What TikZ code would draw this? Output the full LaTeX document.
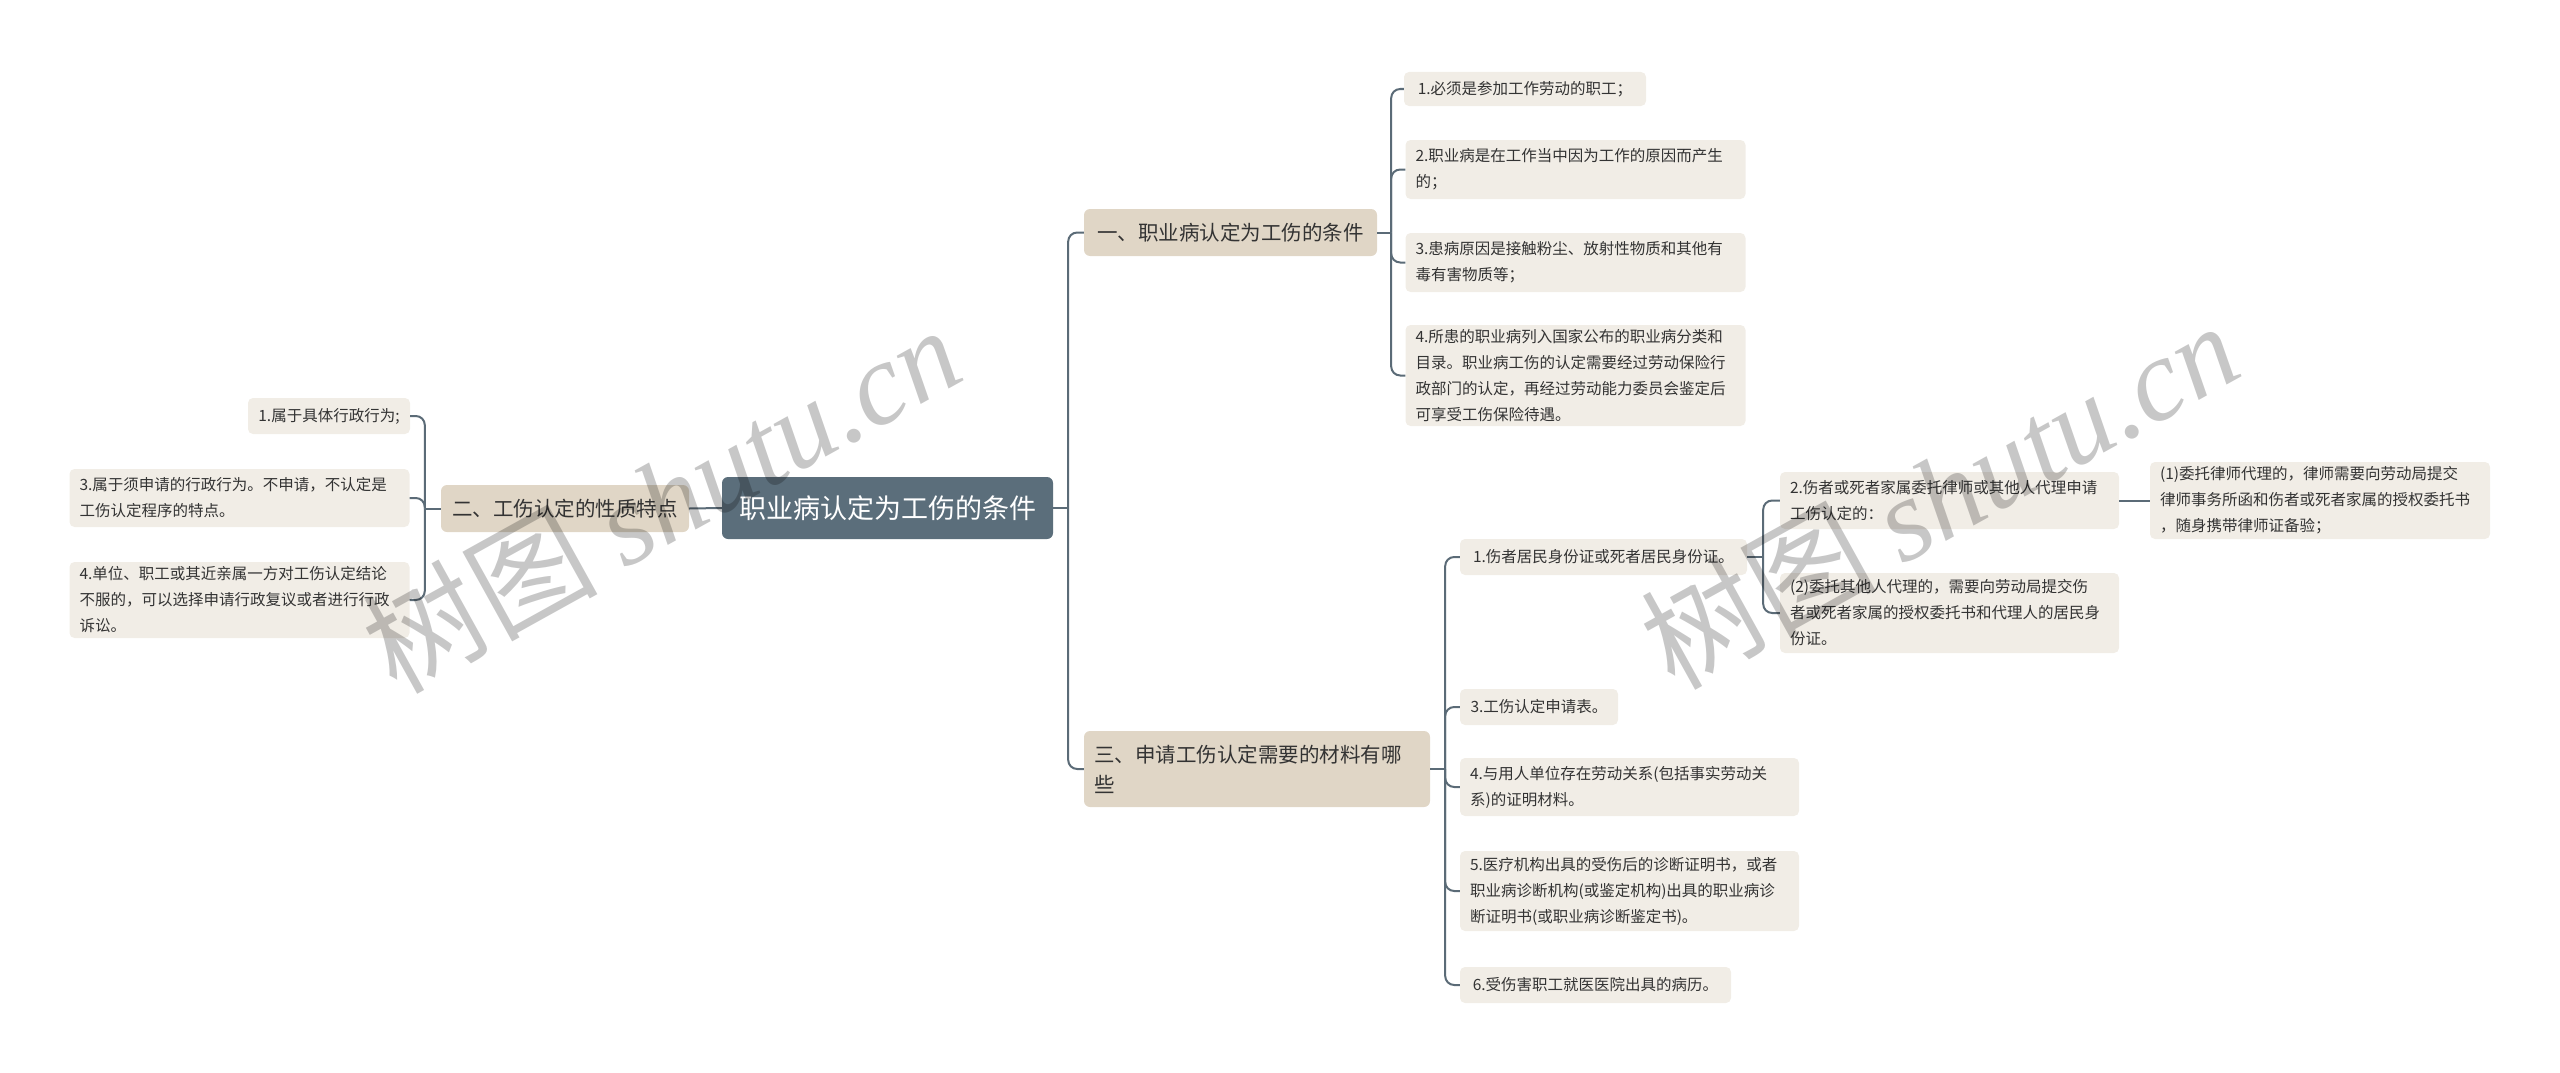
\documentclass[tikz,border=0pt]{standalone}
\usepackage{fontspec}
\setmainfont{Noto Sans CJK SC}
\newfontfamily\markfont{Liberation Serif}
\usetikzlibrary{positioning}
\definecolor{rootfill}{HTML}{5B6E7B}
\definecolor{topicfill}{HTML}{E0D6C6}
\definecolor{leaffill}{HTML}{F1EDE6}
\definecolor{linecol}{HTML}{5B6B77}
\definecolor{textcol}{HTML}{333333}
\tikzstyle{root} = [rectangle, rounded corners=6pt, fill=rootfill, text=white, font=\fontsize{27}{34}\selectfont, inner xsep=10pt, inner ysep=0pt]
\tikzstyle{topic} = [rectangle, rounded corners=6pt, fill=topicfill, text=textcol, font=\fontsize{20.5}{30}\selectfont, align=left, inner xsep=10pt, inner ysep=4pt]
\tikzstyle{leaf} = [rectangle, rounded corners=5pt, fill=leaffill, text=textcol, font=\fontsize{15.5}{26}\selectfont, align=left, inner xsep=10pt, inner ysep=4pt]
\tikzstyle{wide} = [leaf, text width=320pt]
\tikzstyle{link} = [draw=linecol, line width=2pt, rounded corners=9pt]
\tikzstyle{watermark} = [opacity=0.22, rotate=29, font=\fontsize{117}{117}\selectfont]

\begin{document}
\begin{tikzpicture}[x=1pt, y=-1pt]
    \useasboundingbox (0,0) rectangle (2560,1073);

    \node [root, minimum width=331pt, minimum height=62pt] at (887.5,508) (root) {职业病认定为工伤的条件};

    \node [topic, minimum width=248pt, minimum height=47pt] at (565,508.5) (b2) {二、工伤认定的性质特点};
    \node [leaf, minimum width=162pt, minimum height=36pt] at (329,416) (l1) {1.属于具体行政行为;};
    \node [wide, minimum height=58pt] at (239.5,498) (l3) {3.属于须申请的行政行为。不申请，不认定是\\工伤认定程序的特点。};
    \node [wide, minimum height=76pt] at (239.5,600) (l4) {4.单位、职工或其近亲属一方对工伤认定结论\\不服的，可以选择申请行政复议或者进行行政\\诉讼。};

    \node [topic, minimum width=293pt, minimum height=47pt] at (1230.5,232.5) (b1) {一、职业病认定为工伤的条件};
    \node [leaf, minimum width=242pt, minimum height=34pt] at (1525,89) (r1a) {1.必须是参加工作劳动的职工；};
    \node [wide, minimum height=59pt] at (1575.5,169.5) (r1b) {2.职业病是在工作当中因为工作的原因而产生\\的；};
    \node [wide, minimum height=59pt] at (1575.5,262.5) (r1c) {3.患病原因是接触粉尘、放射性物质和其他有\\毒有害物质等；};
    \node [wide, minimum height=101pt] at (1575.5,375.5) (r1d) {4.所患的职业病列入国家公布的职业病分类和\\目录。职业病工伤的认定需要经过劳动保险行\\政部门的认定，再经过劳动能力委员会鉴定后\\可享受工伤保险待遇。};

    \node [topic, text width=326pt, minimum height=76pt] at (1257,769) (b3) {三、申请工伤认定需要的材料有哪\\些};
    \node [leaf, minimum width=287pt, minimum height=36pt] at (1603.5,557) (s1) {1.伤者居民身份证或死者居民身份证。};
    \node [leaf, minimum width=158pt, minimum height=36pt] at (1539,707) (s3) {3.工伤认定申请表。};
    \node [wide, text width=319pt, minimum height=58pt] at (1629.5,787) (s4) {4.与用人单位存在劳动关系(包括事实劳动关\\系)的证明材料。};
    \node [wide, text width=319pt, minimum height=80pt] at (1629.5,891) (s5) {5.医疗机构出具的受伤后的诊断证明书，或者\\职业病诊断机构(或鉴定机构)出具的职业病诊\\断证明书(或职业病诊断鉴定书)。};
    \node [leaf, minimum width=271pt, minimum height=36pt] at (1595.5,985) (s6) {6.受伤害职工就医医院出具的病历。};

    \node [wide, text width=319pt, minimum height=57pt] at (1949.5,500.5) (t2) {2.伤者或死者家属委托律师或其他人代理申请\\工伤认定的：};
    \node [wide, text width=319pt, minimum height=80pt] at (1949.5,613) (t2b) {(2)委托其他人代理的，需要向劳动局提交伤\\者或死者家属的授权委托书和代理人的居民身\\份证。};
    \node [wide, minimum height=77pt] at (2320,500.5) (g1) {(1)委托律师代理的，律师需要向劳动局提交\\律师事务所函和伤者或死者家属的授权委托书\\，随身携带律师证备验；};

    \draw [link] (root.west) -- (b2.east);
    \draw [link] (root.east) -- ++(15,0) coordinate (jr);
    \draw [link] (jr) |- (b1.west);
    \draw [link] (jr) |- (b3.west);

    \draw [link] (b2.west) -- ++(-16,0) coordinate (jl);
    \draw [link] (jl) |- (l1.east);
    \draw [link] (jl) |- (l3.east);
    \draw [link] (jl) |- (l4.east);

    \draw [link] (b1.east) -- ++(14,0) coordinate (j1);
    \draw [link] (j1) |- (r1a.west);
    \draw [link] (j1) |- (r1b.west);
    \draw [link] (j1) |- (r1c.west);
    \draw [link] (j1) |- (r1d.west);

    \draw [link] (b3.east) -- ++(15,0) coordinate (j3);
    \draw [link] (j3) |- (s1.west);
    \draw [link] (j3) |- (s3.west);
    \draw [link] (j3) |- (s4.west);
    \draw [link] (j3) |- (s5.west);
    \draw [link] (j3) |- (s6.west);

    \draw [link] (s1.east) -- ++(16,0) coordinate (js);
    \draw [link] (js) |- (t2.west);
    \draw [link] (js) |- (t2b.west);
    \draw [link] (t2.east) -- (g1.west);

    \node [watermark] at (661,498) (mark1) {树图 {\markfont\itshape shutu.cn}};
    \node [watermark] at (1939,494) (mark2) {树图 {\markfont\itshape shutu.cn}};
\end{tikzpicture}
\end{document}
